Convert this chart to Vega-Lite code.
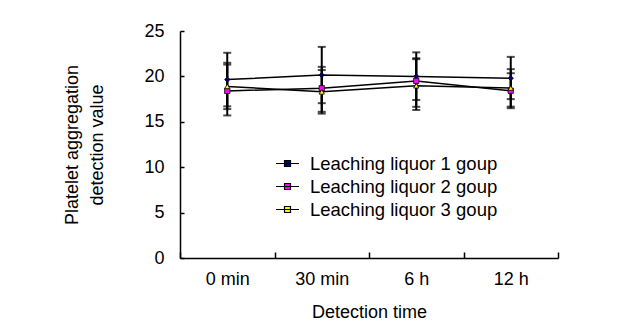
{
  "$schema": "https://vega.github.io/schema/vega-lite/v6.json",
  "autosize": "none",
  "width": 378,
  "height": 227,
  "padding": {"left": 180, "top": 31, "right": 77, "bottom": 65},
  "background": "white",
  "config": {
    "view": {"stroke": null},
    "font": "Liberation Sans",
    "axis": {"grid": false, "domainColor": "black", "tickColor": "black", "domainWidth": 1.5, "tickWidth": 1.5, "labelColor": "black", "titleColor": "black", "labelFont": "Liberation Sans", "titleFont": "Liberation Sans", "labelFontSize": 18, "titleFontSize": 18, "titleFontWeight": "normal"},
    "legend": {"labelLimit": 0}
  },
  "data": {
    "values": [
      {"time": "0 min", "series": "Leaching liquor 1 goup", "value": 19.65, "lo": 16.7, "hi": 22.6},
      {"time": "30 min", "series": "Leaching liquor 1 goup", "value": 20.15, "lo": 17.05, "hi": 23.25},
      {"time": "6 h", "series": "Leaching liquor 1 goup", "value": 20.0, "lo": 17.4, "hi": 22.65},
      {"time": "12 h", "series": "Leaching liquor 1 goup", "value": 19.8, "lo": 17.5, "hi": 22.15},
      {"time": "0 min", "series": "Leaching liquor 2 goup", "value": 18.4, "lo": 15.7, "hi": 21.3},
      {"time": "30 min", "series": "Leaching liquor 2 goup", "value": 18.7, "lo": 16.1, "hi": 21.05},
      {"time": "6 h", "series": "Leaching liquor 2 goup", "value": 19.5, "lo": 16.65, "hi": 22.0},
      {"time": "12 h", "series": "Leaching liquor 2 goup", "value": 18.42, "lo": 16.5, "hi": 20.35},
      {"time": "0 min", "series": "Leaching liquor 3 goup", "value": 18.9, "lo": 16.4, "hi": 21.5},
      {"time": "30 min", "series": "Leaching liquor 3 goup", "value": 18.3, "lo": 15.9, "hi": 20.7},
      {"time": "6 h", "series": "Leaching liquor 3 goup", "value": 18.97, "lo": 16.3, "hi": 21.9},
      {"time": "12 h", "series": "Leaching liquor 3 goup", "value": 18.72, "lo": 16.67, "hi": 20.8}
    ]
  },
  "encoding": {
    "x": {
      "field": "time", "type": "nominal",
      "sort": ["0 min", "30 min", "6 h", "12 h"],
      "scale": {"paddingInner": 0, "paddingOuter": 0},
      "axis": {"title": "Detection time", "labelAngle": 0, "tickBand": "extent", "tickSize": -6, "labelPadding": 18, "titlePadding": 15}
    }
  },
  "layer": [
    {
      "mark": {"type": "rule", "color": "black", "strokeWidth": 2},
      "encoding": {
        "y": {"field": "lo", "type": "quantitative", "scale": {"domain": [0, 25], "padding": 0, "nice": false, "zero": true}, "axis": {"title": ["Platelet aggregation", "detection value"], "values": [0, 5, 10, 15, 20, 25], "tickSize": -4, "labelPadding": 20, "titlePadding": 37, "titleLineHeight": 25}},
        "y2": {"field": "hi"},
        "detail": {"field": "series"}
      }
    },
    {
      "mark": {"type": "tick", "color": "black", "thickness": 2, "size": 8, "orient": "horizontal"},
      "encoding": {"y": {"field": "lo", "type": "quantitative"}}
    },
    {
      "mark": {"type": "tick", "color": "black", "thickness": 2, "size": 8, "orient": "horizontal"},
      "encoding": {"y": {"field": "hi", "type": "quantitative"}}
    },
    {
      "mark": {"type": "line", "color": "black", "strokeWidth": 1.5},
      "encoding": {
        "y": {"field": "value", "type": "quantitative"},
        "detail": {"field": "series"}
      }
    },
    {
      "mark": {"type": "point", "filled": true, "stroke": "black", "strokeWidth": 0.8, "size": 28, "opacity": 1},
      "encoding": {
        "y": {"field": "value", "type": "quantitative"},
        "shape": {
          "field": "series", "type": "nominal",
          "scale": {"domain": ["Leaching liquor 1 goup", "Leaching liquor 2 goup", "Leaching liquor 3 goup"], "range": ["diamond", "square", "triangle-up"]},
          "legend": null
        },
        "fill": {
          "field": "series", "type": "nominal",
          "scale": {"range": ["#000080", "#FF00FF", "#FFFF00"]},
          "legend": {
            "title": null, "orient": "none", "legendX": 95, "legendY": 120, "padding": 0,
            "labelFontSize": 18.5, "labelFont": "Liberation Sans", "labelColor": "black", "labelOffset": 10, "labelLimit": 0,
            "symbolType": "M-1,0H1M-0.26,-0.26H0.26V0.26H-0.26Z",
            "symbolSize": 529, "symbolStrokeWidth": 1.2, "symbolStrokeColor": "black", "rowPadding": 1
          }
        }
      }
    }
  ]
}
